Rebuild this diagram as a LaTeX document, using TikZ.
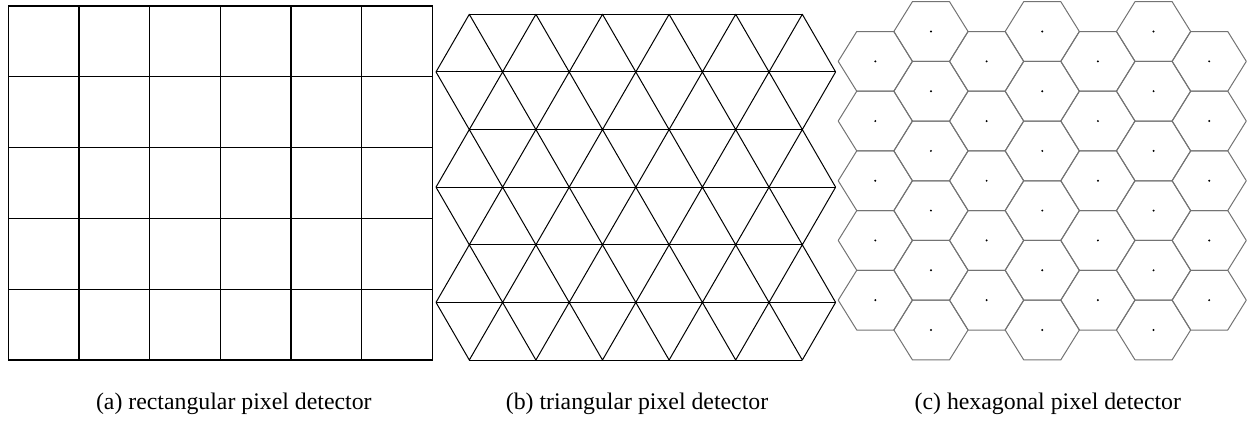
\documentclass[tikz,border=0pt]{standalone}
\usepackage{fontspec}
\setmainfont{Liberation Serif}
\begin{document}
\begin{tikzpicture}[x=1pt,y=-1pt,
  rectline/.style={line width=1.1pt, draw=black},
  triline/.style={line width=1pt, draw=black, line join=round},
  hexline/.style={line width=1pt, draw=black!55, line join=round},
  hexdot/.style={fill=black},
  captext/.style={font=\fontsize{23.8}{28}\selectfont, anchor=base, inner sep=0pt}]
\useasboundingbox (0,0) rectangle (1250,421);

% ---------- (a) rectangular grid ----------
\def\rx{8.3}\def\ry{6}\def\cw{70.667}\def\rh{70.8}
\draw[rectline] (\rx,\ry) rectangle ({\rx+6*\cw},{\ry+5*\rh});
\foreach \i in {1,...,5} \draw[rectline] ({\rx+\i*\cw},\ry) -- ({\rx+\i*\cw},{\ry+5*\rh});
\foreach \j in {1,...,4} \draw[rectline] (\rx,{\ry+\j*\rh}) -- ({\rx+6*\cw},{\ry+\j*\rh});

% ---------- (b) triangular grid ----------
\def\tx{469.3}\def\ty{14.3}\def\ts{66.6}\def\th{57.62}
\foreach \k in {0,2,4,6}
  \draw[triline] (\tx,{\ty+\k*\th}) -- ({\tx+5*\ts},{\ty+\k*\th});
\foreach \k in {1,3,5}
  \draw[triline] ({\tx-0.5*\ts},{\ty+\k*\th}) -- ({\tx+5.5*\ts},{\ty+\k*\th});
\foreach \k in {0,2,4} {
  \draw[triline] ({\tx-0.5*\ts},{\ty+(\k+1)*\th})
    \foreach \i in {0,...,5} { -- ({\tx+\i*\ts},{\ty+\k*\th}) -- ({\tx+(\i+0.5)*\ts},{\ty+(\k+1)*\th}) };
}
\foreach \k in {1,3,5} {
  \draw[triline] ({\tx-0.5*\ts},{\ty+\k*\th})
    \foreach \i in {0,...,5} { -- ({\tx+\i*\ts},{\ty+(\k+1)*\th}) -- ({\tx+(\i+0.5)*\ts},{\ty+\k*\th}) };
}

% ---------- (c) hexagonal grid ----------
\def\hx{875.3}\def\hR{37.1}\def\hh{29.85}\def\hs{55.65}\def\hv{59.7}
\foreach \c in {0,2,4,6} {
  \foreach \j in {0,...,4} {
    \pgfmathsetmacro{\cx}{\hx+\c*\hs}
    \pgfmathsetmacro{\cy}{61.35+\j*\hv}
    \draw[hexline] ({\cx+\hR},\cy) -- ({\cx+0.5*\hR},{\cy-\hh}) -- ({\cx-0.5*\hR},{\cy-\hh})
      -- ({\cx-\hR},\cy) -- ({\cx-0.5*\hR},{\cy+\hh}) -- ({\cx+0.5*\hR},{\cy+\hh}) -- cycle;
    \fill[hexdot] (\cx,\cy) circle (1.1pt);
  }
}
\foreach \c in {1,3,5} {
  \foreach \j in {0,...,5} {
    \pgfmathsetmacro{\cx}{\hx+\c*\hs}
    \pgfmathsetmacro{\cy}{31.5+\j*\hv}
    \draw[hexline] ({\cx+\hR},\cy) -- ({\cx+0.5*\hR},{\cy-\hh}) -- ({\cx-0.5*\hR},{\cy-\hh})
      -- ({\cx-\hR},\cy) -- ({\cx-0.5*\hR},{\cy+\hh}) -- ({\cx+0.5*\hR},{\cy+\hh}) -- cycle;
    \fill[hexdot] (\cx,\cy) circle (1.1pt);
  }
}

% ---------- captions ----------
\node[captext] (capa) at (233.8,409.5) {(a) rectangular pixel detector};
\node[captext] (capb) at (637,409.5) {(b) triangular pixel detector};
\node[captext] (capc) at (1047.8,409.5) {(c) hexagonal pixel detector};
\end{tikzpicture}
\end{document}
